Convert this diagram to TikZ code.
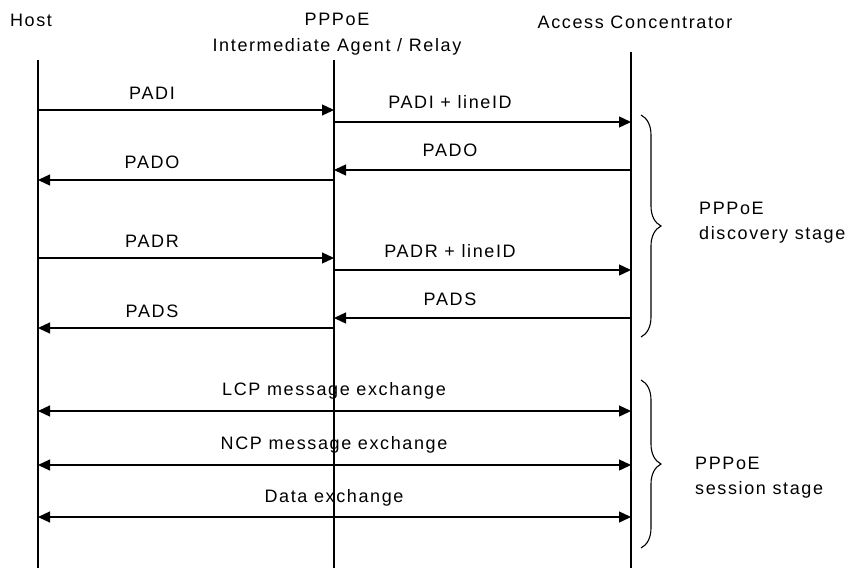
\documentclass[tikz,border=0pt]{standalone}
\usepackage{fontspec}
\newfontfamily\diagfont[LetterSpace=9]{Liberation Sans}
\usepackage{tikz}
\usetikzlibrary{arrows.meta,decorations.pathreplacing}
\tikzstyle{lifeLine}=[line width=1.4pt]
\tikzstyle{msgArrow}=[line width=1.3pt,-{Triangle[length=12pt,width=11pt]}]
\tikzstyle{xchgArrow}=[line width=1.3pt,{Triangle[length=12pt,width=11pt]}-{Triangle[length=12pt,width=11pt]}]
\tikzstyle{msgLabel}=[anchor=base,inner sep=0pt]
\tikzstyle{stageLabel}=[anchor=north west,inner sep=0pt,align=left]
\tikzstyle{stageBrace}=[decorate,decoration={brace,amplitude=20pt},line width=1.1pt]

\begin{document}
\begin{tikzpicture}[x=1pt,y=-1pt,font=\diagfont\fontsize{18}{25}\selectfont]
      \useasboundingbox (0,0) rectangle (848,568);
      % parties
      \node [msgLabel] (hostName) at (31,26) {Host};
      \node [anchor=north,inner sep=0pt,align=center,font=\diagfont\fontsize{18}{26}\selectfont] (relayName) at (337,13) {PPPoE\\Intermediate Agent / Relay};
      \node [msgLabel] (acName) at (635,28) {Access Concentrator};
      \coordinate (hostTop) at (38,60);
      \coordinate (hostBot) at (38,568);
      \coordinate (relayTop) at (334,60);
      \coordinate (relayBot) at (334,568);
      \coordinate (acTop) at (631,52);
      \coordinate (acBot) at (631,568);
      \draw [lifeLine] (hostTop) -- (hostBot);
      \draw [lifeLine] (relayTop) -- (relayBot);
      \draw [lifeLine] (acTop) -- (acBot);
      % message rows
      \foreach \row/\y in {padi/110,padiId/122,padoAc/170,pado/180,padr/258,padrId/270,padsAc/318,pads/328,lcp/411,ncp/465,data/517} {
        \coordinate (h-\row) at (38,\y);
        \coordinate (r-\row) at (334,\y);
        \coordinate (a-\row) at (631,\y);
      }
      % discovery
      \draw [msgArrow] (h-padi) -- (r-padi);
      \node [msgLabel] (padiLabel) at (152,99) {PADI};
      \draw [msgArrow] (r-padiId) -- (a-padiId);
      \node [msgLabel] (padiIdLabel) at (450,108) {PADI + lineID};
      \draw [msgArrow] (a-padoAc) -- (r-padoAc);
      \node [msgLabel] (padoAcLabel) at (450,156) {PADO};
      \draw [msgArrow] (r-pado) -- (h-pado);
      \node [msgLabel] (padoLabel) at (152,168) {PADO};
      \draw [msgArrow] (h-padr) -- (r-padr);
      \node [msgLabel] (padrLabel) at (152,247) {PADR};
      \draw [msgArrow] (r-padrId) -- (a-padrId);
      \node [msgLabel] (padrIdLabel) at (450,257) {PADR + lineID};
      \draw [msgArrow] (a-padsAc) -- (r-padsAc);
      \node [msgLabel] (padsAcLabel) at (450,305) {PADS};
      \draw [msgArrow] (r-pads) -- (h-pads);
      \node [msgLabel] (padsLabel) at (152,317) {PADS};
      % session
      \draw [xchgArrow] (h-lcp) -- (a-lcp);
      \node [msgLabel] (lcpLabel) at (334,395) {LCP message exchange};
      \draw [xchgArrow] (h-ncp) -- (a-ncp);
      \node [msgLabel] (ncpLabel) at (334,449) {NCP message exchange};
      \draw [xchgArrow] (h-data) -- (a-data);
      \node [msgLabel] (dataLabel) at (334,502) {Data exchange};
      % stages
      \coordinate (discTop) at (641,115);
      \coordinate (discBot) at (641,337);
      \coordinate (sessTop) at (641,380);
      \coordinate (sessBot) at (641,548);
      \draw [stageBrace] (discTop) -- (discBot);
      \node [stageLabel] (discLabel) at (699,202) {PPPoE\\discovery stage};
      \draw [stageBrace] (sessTop) -- (sessBot);
      \node [stageLabel] (sessLabel) at (695,457) {PPPoE\\session stage};
\end{tikzpicture}
\end{document}
